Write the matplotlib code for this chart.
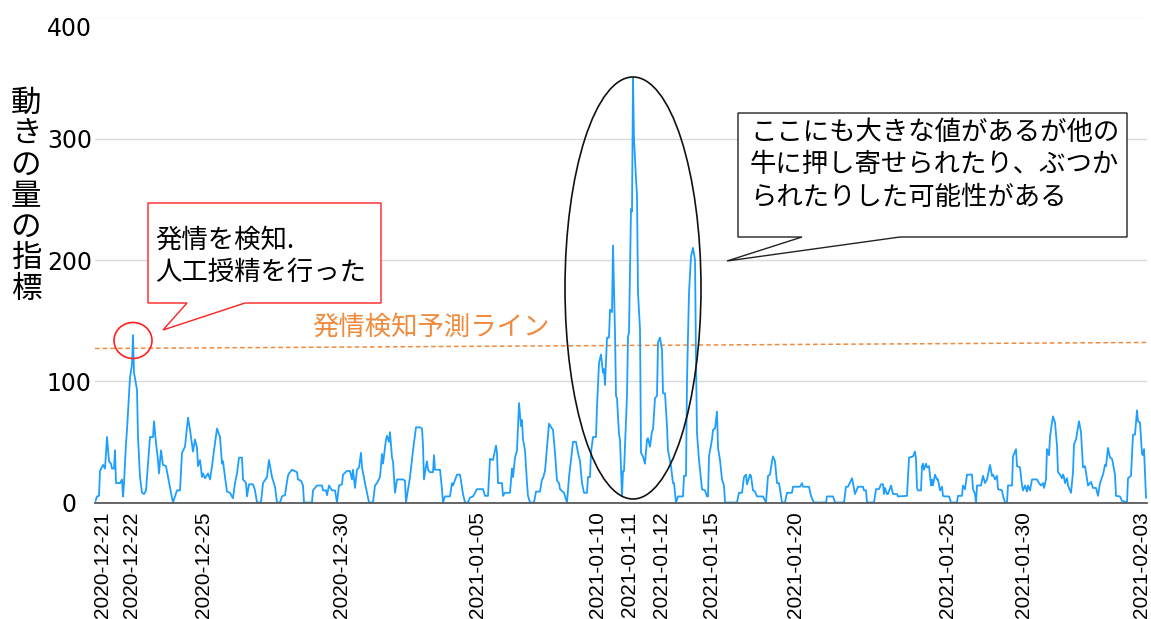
import matplotlib
matplotlib.use('Agg')
import matplotlib.pyplot as plt
from matplotlib.patches import Polygon, Ellipse
from matplotlib.transforms import Affine2D

plt.rcParams['font.family'] = ['Noto Sans CJK JP', 'DejaVu Sans']

# ---------------- data ----------------
hours = [0, 2, 4, 5, 8, 10, 12, 14, 16, 17, 19, 20, 21, 25, 27, 28, 29, 31, 32, 35, 37, 38, 39, 42, 43, 45,
         47, 49, 51, 53, 55, 58, 59, 61, 63, 64, 66, 68, 71, 73, 76, 78, 80, 82, 85, 87, 90, 93, 95, 98,
         100, 102, 103, 105, 107, 108, 110, 113, 115, 117, 119, 122, 125, 127, 128, 130, 132, 135, 138,
         140, 142, 144, 147, 148, 151, 152, 154, 158, 160, 162, 166, 168, 172, 174, 177, 180, 182, 185,
         187, 188, 190, 191, 193, 194, 197, 202, 203, 206, 208, 209, 217, 218, 222, 227, 228, 231, 232,
         234, 237, 240, 242, 244, 247, 248, 252, 255, 257, 258, 260, 262, 264, 266, 267, 270, 272, 274,
         278, 280, 282, 285, 287, 288, 291, 292, 294, 295, 297, 298, 300, 302, 308, 310, 311, 315, 318,
         321, 325, 327, 328, 329, 331, 332, 333, 335, 338, 339, 340, 345, 347, 348, 350, 355, 357, 358,
         362, 365, 368, 370, 373, 375, 378, 382, 388, 390, 393, 395, 398, 401, 402, 403, 407, 408, 410,
         415, 417, 418, 420, 422, 424, 426, 427, 428, 430, 432, 433, 435, 439, 441, 445, 447, 448, 450,
         452, 454, 457, 458, 460, 462, 464, 465, 469, 472, 474, 476, 478, 481, 483, 485, 487, 489, 492,
         493, 495, 496, 498, 501, 502, 504, 506, 508, 509, 510, 512, 514, 515, 517, 518, 520, 521, 522,
         524, 525, 527, 528, 529, 532, 533, 534, 536, 537, 538, 539, 541, 542, 543, 545, 546, 548, 550,
         552, 553, 555, 557, 558, 560, 562, 563, 565, 567, 568, 570, 572, 573, 576, 578, 579, 581, 583,
         588, 589, 591, 592, 594, 596, 598, 600, 601, 602, 604, 607, 610, 612, 613, 614, 617, 618, 620,
         622, 623, 625, 627, 629, 630, 642, 644, 647, 649, 651, 652, 655, 656, 658, 660, 662, 668, 671,
         673, 675, 677, 678, 680, 682, 684, 687, 690, 692, 697, 698, 705, 707, 708, 714, 716, 718, 719,
         731, 732, 738, 740, 749, 751, 753, 757, 758, 760, 762, 763, 768, 769, 771, 772, 779, 781, 784,
         786, 788, 789, 790, 792, 793, 796, 798, 802, 803, 812, 813, 814, 818, 820, 821, 822, 823, 826,
         827, 828, 829, 831, 832, 834, 836, 837, 838, 840, 842, 843, 845, 847, 848, 850, 854, 856, 862,
         863, 867, 868, 870, 872, 877, 878, 880, 881, 882, 886, 888, 890, 892, 895, 897, 898, 900, 902,
         903, 907, 908, 910, 912, 913, 917, 918, 921, 922, 925, 927, 928, 930, 932, 933, 935, 937, 942,
         944, 946, 948, 949, 951, 952, 954, 955, 957, 958, 960, 962, 963, 965, 967, 968, 969, 970, 972,
         973, 976, 978, 979, 981, 984, 986, 988, 990, 992, 993, 996, 998, 1001, 1003, 1005, 1008, 1010,
         1011, 1013, 1015, 1017, 1018, 1020, 1021, 1025, 1027, 1032, 1033, 1036, 1038, 1040, 1042, 1043,
         1045, 1047, 1048, 1049, 1051]

values = [0, 5, 5.5, 26, 31, 28, 54, 34, 32, 28, 28, 43, 16, 16, 19, 5, 16, 49, 60, 103, 114, 138, 107, 93, 54, 21,
          8, 7, 10, 32, 54, 54, 67, 49, 35, 24, 43, 31, 30, 21, 8, 0, 5, 10, 10, 41, 46, 70, 60, 42,
          52, 45, 30, 35, 21, 24, 20, 24, 19, 30, 43, 61, 54, 32, 34, 21, 9, 8, 3.5,
          16, 24, 37, 37, 19, 16, 5, 15, 15, 10, 0, 0, 16, 21, 35, 21, 13, 0, 0,
          5, 5.5, 6, 12, 22, 24, 27, 25, 19, 18, 14, 0, 0, 10, 14, 14, 10, 10, 6,
          14, 10, 10, 0, 14, 15, 23, 26, 26, 19, 27, 12, 27, 29, 41, 29, 16, 8, 0,
          0, 14, 16, 21, 40, 32, 52, 55, 50, 58, 37, 34, 8, 19, 19, 18, 0, 21, 43,
          62, 62, 61, 47, 19, 30, 34, 27, 25, 25, 39, 27, 27, 11, 0, 5, 5, 16, 14,
          23, 23, 7, 0, 0, 4, 5, 11, 11, 5.5, 5.5, 36, 35, 47, 41, 16, 16, 5.5, 8,
          8, 28, 21, 37, 43, 82, 63, 68, 52, 43, 16, 5.5, 0, 0, 9, 9, 19, 20, 26,
          46, 65, 61, 60, 41, 18, 16, 11, 8, 0, 21, 35, 50, 50, 41, 34, 16, 8, 8,
          21, 21, 41, 54, 54, 79, 115, 122, 107, 110, 97, 136, 136, 159, 157, 212, 140, 88, 86,
          56, 52, 5, 26, 26, 88, 137, 140, 242, 240, 350, 300, 267, 253, 173, 143, 41, 38, 32,
          52, 53, 46, 59, 60, 86, 88, 132, 136, 126, 90, 90, 63, 43, 30, 16, 16, 0, 5,
          5, 22, 22, 101, 173, 203, 210, 200, 118, 57, 35, 11, 10, 5, 5, 38, 52, 60, 61,
          75, 45, 35, 19, 14, 0, 0, 8, 8, 21, 23, 15, 23, 22, 10, 9, 5, 5, 0,
          22, 23, 34, 38, 34, 16, 16, 0, 0, 8, 8, 13, 13, 16, 13, 13, 5.5, 1.4, 0,
          0, 5, 5, 0, 0, 13, 13, 20, 16, 7, 11, 13, 13, 10, 10, 0, 0, 11, 11,
          15, 15, 7, 12, 7, 7, 14, 7, 7, 5, 5.5, 21, 37, 38, 42, 36, 12, 10, 10,
          30, 32, 27, 32, 29, 30, 14, 19, 14, 23, 19, 19, 10, 13, 5.5, 5, 5, 0, 0,
          5.5, 5.5, 14, 11, 23, 23, 11, 7, 0, 14, 14, 22, 16, 19, 31, 22, 23, 19, 22,
          11, 10, 5.5, 0, 0, 14, 14, 38, 44, 30, 29, 14, 10, 14, 9, 14, 10, 19, 19,
          16, 14, 16, 12, 19, 44, 39, 54, 66, 71, 66, 47, 25, 23, 20, 23, 21, 16, 20,
          14, 8, 25, 48, 52, 67, 58, 29, 30, 19, 14, 17, 12, 12, 5.5, 16, 23, 31,
          30, 45, 37, 36, 32, 23, 5.5, 5, 1.4, 0, 20, 22, 56, 56, 76, 67,
          66, 40, 39, 44, 4]

# estrus-detection prediction line (start / end value)
threshold = [127, 132]

yticks = [0, 100, 200, 300, 400]
tick_labels = ['2020-12-21', '2020-12-22', '2020-12-25', '2020-12-30', '2021-01-05',
               '2021-01-10', '2021-01-11', '2021-01-12', '2021-01-15', '2021-01-20',
               '2021-01-25', '2021-01-30', '2021-02-03']
tick_hours = [8, 36, 109, 246, 382, 502, 534, 566, 617, 701, 852, 929, 1047]

ylabel = '動きの量の指標'
threshold_label = '発情検知予測ライン'
note_left = ['発情を検知.', '人工授精を行った']
note_right = ['ここにも大きな値があるが他の', '牛に押し寄せられたり、ぶつか', 'られたりした可能性がある']

LINE = '#1E9FFF'
ORANGE = '#F08A3C'

# ---------------- figure ----------------
W, H = 1151, 619
fig = plt.figure(figsize=(W / 100, H / 100), dpi=100)
pix = Affine2D().scale(1 / W, -1 / H).translate(0, 1) + fig.transFigure

ax = fig.add_axes([95 / W, 1 - 502.5 / H, 1052 / W, (502.5 - 17.5) / H])
ax.plot(hours, values, color=LINE, lw=1.3, zorder=3, solid_joinstyle='round')
xmax = 1052
ax.plot([0, xmax], threshold, color=ORANGE, lw=1.1, ls=(0, (3, 2)), zorder=2)
ax.set_xlim(0, xmax)
ax.set_ylim(0, 400)

ax.set_yticks(yticks)
ax.grid(axis='y', color='#D9D9D9', lw=1.0)
ax.set_axisbelow(True)
for s in ['left', 'right', 'top']:
    ax.spines[s].set_visible(False)
ax.spines['bottom'].set_color('#595959')
ax.spines['bottom'].set_linewidth(1.3)
ax.spines['bottom'].set_zorder(4)

ax.set_xticks(tick_hours)
ax.set_xticklabels(tick_labels, rotation=90, fontsize=15, family=['Liberation Sans', 'DejaVu Sans'])
ax.tick_params(axis='x', length=0, pad=6.5)
ax.tick_params(axis='y', length=0, pad=18.5)
ax.set_yticklabels([str(v) for v in yticks], fontsize=17, family=['DejaVu Sans'])
for lab in ax.get_yticklabels():
    lab.set_horizontalalignment('center')
ax.get_yticklabels()[-1].set_verticalalignment('top')

# y label (stacked characters)
for k, ch in enumerate(ylabel):
    fig.text(26, 103.5 + 31 * k, ch, transform=pix, ha='center', va='center', fontsize=22)

# threshold label
fig.text(312, 327, threshold_label, transform=pix, ha='left', va='center', fontsize=19, color=ORANGE)

# left callout (red)
left_pts = [(148, 203), (381, 203), (381, 303), (245, 303), (163, 330), (187, 303), (148, 303)]
fig.add_artist(Polygon(left_pts, closed=True, fc='white', ec='#FF2020', lw=1.0, transform=pix, zorder=5))
for k, line in enumerate(note_left):
    fig.text(155, 240 + 32 * k, line, transform=pix, ha='left', va='center', fontsize=19, zorder=6)

# right callout (black)
right_pts = [(738, 113), (1127, 113), (1127, 237), (900, 237), (727, 261), (802, 237), (738, 237)]
fig.add_artist(Polygon(right_pts, closed=True, fc='white', ec='#222222', lw=1.0, transform=pix, zorder=5))
for k, line in enumerate(note_right):
    fig.text(750, 132.5 + 32.5 * k, line, transform=pix, ha='left', va='center', fontsize=19, zorder=6)

# circles
fig.add_artist(Ellipse((133, 340.5), 38, 36, fc='none', ec='#FF2020', lw=1.2, transform=pix, zorder=6))
fig.add_artist(Ellipse((633, 288), 136, 422, fc='none', ec='#111111', lw=1.2, transform=pix, zorder=6))

fig.savefig('out.png', dpi=100)
